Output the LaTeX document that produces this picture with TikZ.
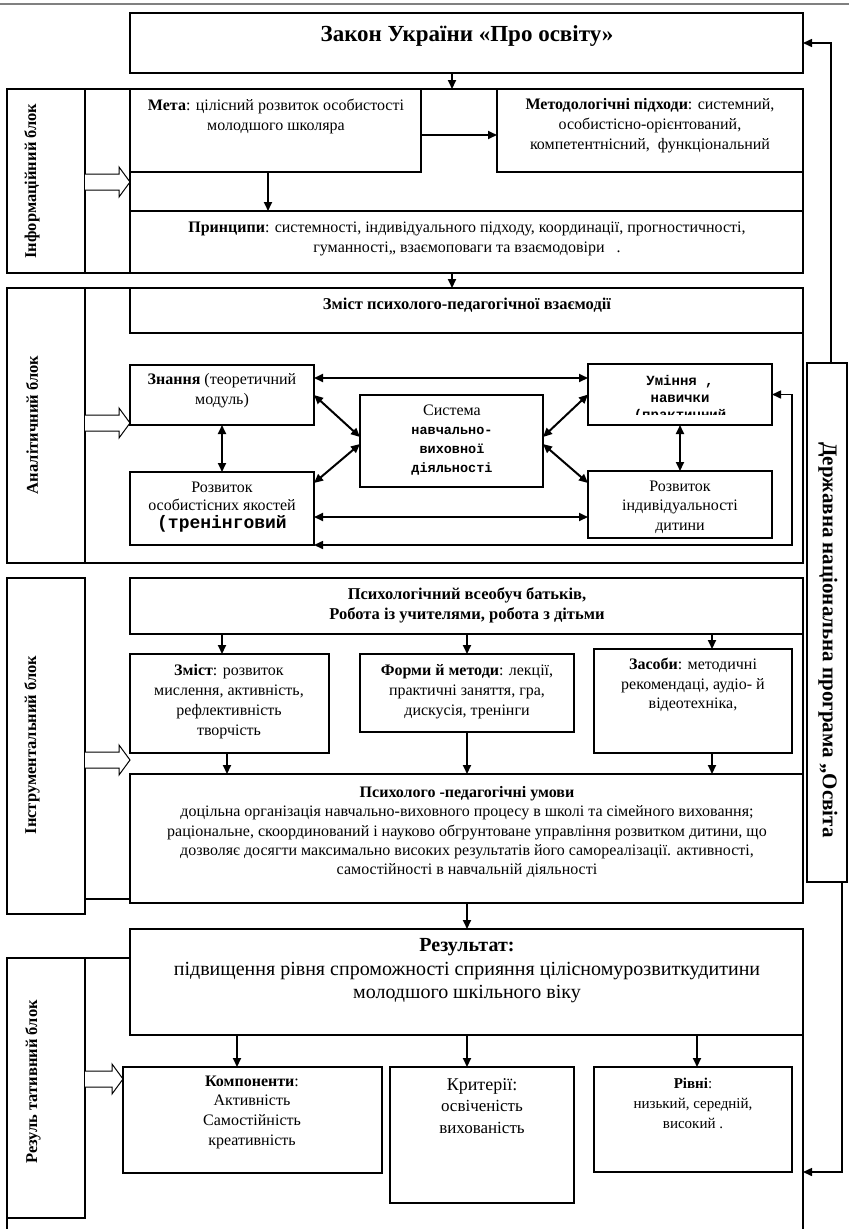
\documentclass[tikz,border=0pt]{standalone}
\usepackage{fontspec}
\setmainfont{Liberation Serif}
\newfontfamily\monof{Liberation Mono}
\usetikzlibrary{arrows.meta,fit,calc}
\tikzset{
  box/.style={draw, line width=1.3pt, inner sep=0pt, outer sep=0pt},
  frame/.style={line width=1.3pt},
  arr/.style={line width=2pt, -{Triangle[length=9pt,width=8pt]}},
  thinarr/.style={line width=1.5pt, -{Triangle[length=9pt,width=8pt]}},
  darr/.style={line width=2pt, {Triangle[length=9pt,width=8pt]}-{Triangle[length=9pt,width=8pt]}},
  loopar/.style={line width=1.6pt, {Triangle[length=9pt,width=8pt]}-{Triangle[length=9pt,width=8pt]}},
  txt/.style={align=center, inner sep=0pt, font=\fontsize{16}{20}\selectfont},
  lab/.style={font=\bfseries\fontsize{16.5}{19}\selectfont, rotate=90, inner sep=0pt},
  hol/.style={draw, line width=1pt, fill=white},
}
\newcommand\holarrow[3]{%
  \draw[hol] (#1,#3-8) -- (#2-11,#3-8) -- (#2-11,#3-15) -- (#2,#3) -- (#2-11,#3+15) -- (#2-11,#3+8) -- (#1,#3+8);}
\begin{document}
\begin{tikzpicture}[x=1pt,y=-1pt]
\useasboundingbox[fill=white] (0,0) rectangle (849,1229);
% header rule
\coordinate (hl) at (0,4); \coordinate (hr) at (849,4);
\draw[gray, line width=2pt] (hl) -- (hr);
% helper coordinates
\coordinate (c452) at (452,0);
\coordinate (c831) at (831,0);
\coordinate (c842) at (842,0);
\coordinate (y135) at (0,135);
\coordinate (c268) at (268,0);
\coordinate (y378) at (0,378);
\coordinate (y517) at (0,517);
\coordinate (loopR) at (792,547);
\coordinate (resR) at (803,1172);

% ---------- top box
\node[box, fit={(130,13) (803,73)}] (zakon) {};
\node[font=\bfseries\fontsize{23}{27}\selectfont, inner sep=0pt] (tZakon) at (467,36) {Закон України «Про освіту»};

% ---------- information block
\node[box, fit={(7,89) (803,273)}] (info) {};
\node[box, fit={(7,89) (85,273)}] (infolab) {};
\node[box, fit={(130,89) (421,172)}] (meta) {};
\node[box, fit={(497,89) (803,172)}] (metod) {};
\node[box, fit={(130,211) (803,273)}] (princ) {};
\draw[frame] (meta.south west) -- (princ.north west);
\node[lab] (lInfo) at (32,181) {Інформаційний блок};
\holarrow{85}{130}{182}
\node[txt] (tMeta) at (276,116) {\textbf{Мета}: цілісний розвиток особистості\\ молодшого школяра};
\node[txt] (tMetod) at (650,126) {\textbf{Методологічні підходи}: системний,\\ особистісно-орієнтований,\\ компетентнісний,\ \ функціональний};
\node[txt] (tPrinc) at (467,239) {\textbf{Принципи}: системності, індивідуального підходу, координації, прогностичності,\\ гуманності,, взаємоповаги та взаємодовіри\ \ \ .};
\draw[arr] (zakon.south -| c452) -- (info.north -| c452);
\draw[arr] (meta.east |- y135) -- (metod.west |- y135);
\draw[arr] (meta.south -| c268) -- (princ.north -| c268);

% ---------- analytic block
\node[box, fit={(7,288) (803,563)}] (anal) {};
\node[box, fit={(7,288) (85,563)}] (anallab) {};
\node[box, fit={(130,288) (803,333)}] (zmist) {};
\node[lab] (lAnal) at (32,425) {Аналітичний блок};
\holarrow{85}{130}{423}
\node[txt, font=\bfseries\fontsize{16.5}{19}\selectfont] (tZmist) at (467,305) {Зміст психолого-педагогічної взаємодії};
\draw[arr] (princ.south -| c452) -- (anal.north -| c452);

\node[box, fit={(130,365) (314,425)}] (znan) {};
\node[box, fit={(360,395) (543,487)}] (sys) {};
\node[box, fit={(588,364) (772,425)}] (umin) {};
\node[box, fit={(130,472) (314,545)}] (rozv1) {};
\node[box, fit={(588,471) (772,538)}] (rozv2) {};

\node[txt] (tZnan) at (222,391) {\textbf{Знання} (теоретичний\\ модуль)};
\node[txt, font=\fontsize{16}{19}\selectfont] (tSys) at (452,440) {Система\\ {\monof\bfseries\fontsize{13.5}{19}\selectfont навчально-}\\ {\monof\bfseries\fontsize{13.5}{19}\selectfont виховної}\\ {\monof\bfseries\fontsize{13.5}{19}\selectfont діяльності}};
\begin{scope}
  \clip (588,364) rectangle (772,414);
  \node[txt, font=\monof\bfseries\fontsize{14}{17}\selectfont] (tUmin) at (680,399) {Уміння ,\\ навички\\ (практичний};
\end{scope}
\node[txt, font=\fontsize{16}{18}\selectfont] (tRozv1) at (222,507) {Розвиток\\ особистісних якостей\\ {\monof\bfseries\fontsize{18}{18}\selectfont (тренінговий}};
\node[txt, font=\fontsize{16}{19.5}\selectfont] (tRozv2) at (680,507) {Розвиток\\ індивідуальності\\ дитини};

\draw[darr] (znan.east |- y378) -- (umin.west |- y378);
\draw[darr] (rozv1.east |- y517) -- (rozv2.west |- y517);
\draw[darr] (znan.south) -- (rozv1.north);
\draw[darr] (umin.south) -- (rozv2.north);
\draw[darr] (znan.east) -- ($(sys.west)+(0,-4)$);
\draw[darr] ($(rozv1.north east)+(0,11)$) -- ($(sys.west)+(0,3)$);
\draw[darr] (umin.west) -- ($(sys.east)+(0,-4)$);
\draw[darr] ($(rozv2.north west)+(0,12)$) -- ($(sys.east)+(0,3)$);
\draw[loopar] (rozv1.south east) -- (rozv1.south east -| loopR) |- (umin.east);

% ---------- instrumental block
\node[box, fit={(7,578) (85,914)}] (instrlab) {};
\node[box, fit={(130,578) (803,634)}] (psych) {};
\node[box, fit={(130,654) (329,753)}] (zm2) {};
\node[box, fit={(360,654) (574,732)}] (form) {};
\node[box, fit={(594,649) (792,753)}] (zas) {};
\node[box, fit={(130,774) (803,903)}] (umov) {};
\draw[frame] (psych.south east) -- (umov.north east);
\draw[frame] (instrlab.east |- 0,899) -- (umov.west |- 0,899);
\node[lab] (lInstr) at (32,745) {Інструментальний блок};
\holarrow{85}{130}{760}

\node[txt, font=\bfseries\fontsize{16.5}{20}\selectfont] (tPsych) at (467,605) {Психологічний всеобуч батьків,\\ Робота із учителями, робота з дітьми};
\node[txt] (tZm2) at (229,702) {\textbf{Зміст}: розвиток\\ мислення, активність,\\ рефлективність\\ творчість};
\node[txt] (tForm) at (467,692) {\textbf{Форми й методи}: лекції,\\ практичні заняття, гра,\\ дискусія, тренінги};
\node[txt, font=\fontsize{16}{19.5}\selectfont] (tZas) at (693,685) {\textbf{Засоби}: методичні\\ рекомендаці, аудіо- й\\ відеотехніка,};
\node[txt, font=\fontsize{16}{19.3}\selectfont] (tUmov) at (467,832) {\textbf{Психолого -педагогічні умови}\\ доцільна організація навчально-виховного процесу в школі та сімейного виховання;\\ раціональне, скоординований і науково обгрунтоване управління розвитком дитини, що\\ дозволяє досягти максимально високих результатів його самореалізації. активності,\\ самостійності в навчальній діяльності};

\coordinate (c222) at (222,0); \coordinate (c467) at (467,0); \coordinate (c712) at (712,0);
\coordinate (c227) at (227,0);
\draw[arr] (psych.south -| c222) -- (zm2.north -| c222);
\draw[arr] (psych.south -| c467) -- (form.north -| c467);
\draw[arr] (psych.south -| c712) -- (zas.north -| c712);
\draw[arr] (zm2.south -| c227) -- (umov.north -| c227);
\draw[arr] (form.south -| c467) -- (umov.north -| c467);
\draw[arr] (zas.south -| c712) -- (umov.north -| c712);

% ---------- result block
\node[box, fit={(130,929) (803,1035)}] (res) {};
\node[box, fit={(7,958) (85,1218)}] (reslab) {};
\draw[frame] (reslab.north east) -- (res.west |- reslab.north east);
\coordinate (blL) at (7,1229); \coordinate (blR) at (803,1229);
\draw[frame] (reslab.south west) -- (blL);
\draw[frame] (res.south east) -- (blR);
\node[lab] (lRes) at (33,1082) {Резуль тативний блок};
\holarrow{85}{123}{1079}
\node[box, fit={(123,1067) (382,1173)}] (komp) {};
\node[box, fit={(390,1067) (574,1203)}] (krit) {};
\node[box, fit={(594,1067) (792,1172)}] (rivni) {};

\node[txt, font=\fontsize{20}{23.5}\selectfont] (tRes) at (467,971) {\textbf{Результат:}\\ підвищення рівня спроможності сприяння цілісномурозвиткудитини\\ молодшого шкільного віку};
\node[txt, font=\fontsize{16}{19.7}\selectfont] (tKomp) at (252,1112) {\textbf{Компоненти}:\\ Активність\\ Самостійність\\ креативність};
\node[txt, font=\fontsize{17}{21.5}\selectfont] (tKrit) at (482,1106) {{\fontsize{18}{21}\selectfont Критерії:}\\ освіченість\\ вихованість};
\node[txt, font=\fontsize{15}{20}\selectfont] (tRivni) at (693,1103) {\textbf{Рівні}:\\ низький, середній,\\ високий .};

\coordinate (c237) at (237,0); \coordinate (c697) at (697,0);
\draw[arr] (umov.south -| c467) -- (res.north -| c467);
\draw[arr] (res.south -| c237) -- (komp.north -| c237);
\draw[arr] (res.south -| c467) -- (krit.north -| c467);
\draw[arr] (res.south -| c697) -- (rivni.north -| c697);

% ---------- state programme
\node[box, fit={(807,363) (847,882)}] (derzh) {};
\node[font=\bfseries\fontsize{21}{24}\selectfont, rotate=-90, inner sep=0pt] (tDerzh) at (828,640) {Державна національна програма „Освіта};
\draw[thinarr] (derzh.north -| c831) |- (zakon.east);
\draw[thinarr] (derzh.south -| c842) |- (resR);
\end{tikzpicture}
\end{document}
